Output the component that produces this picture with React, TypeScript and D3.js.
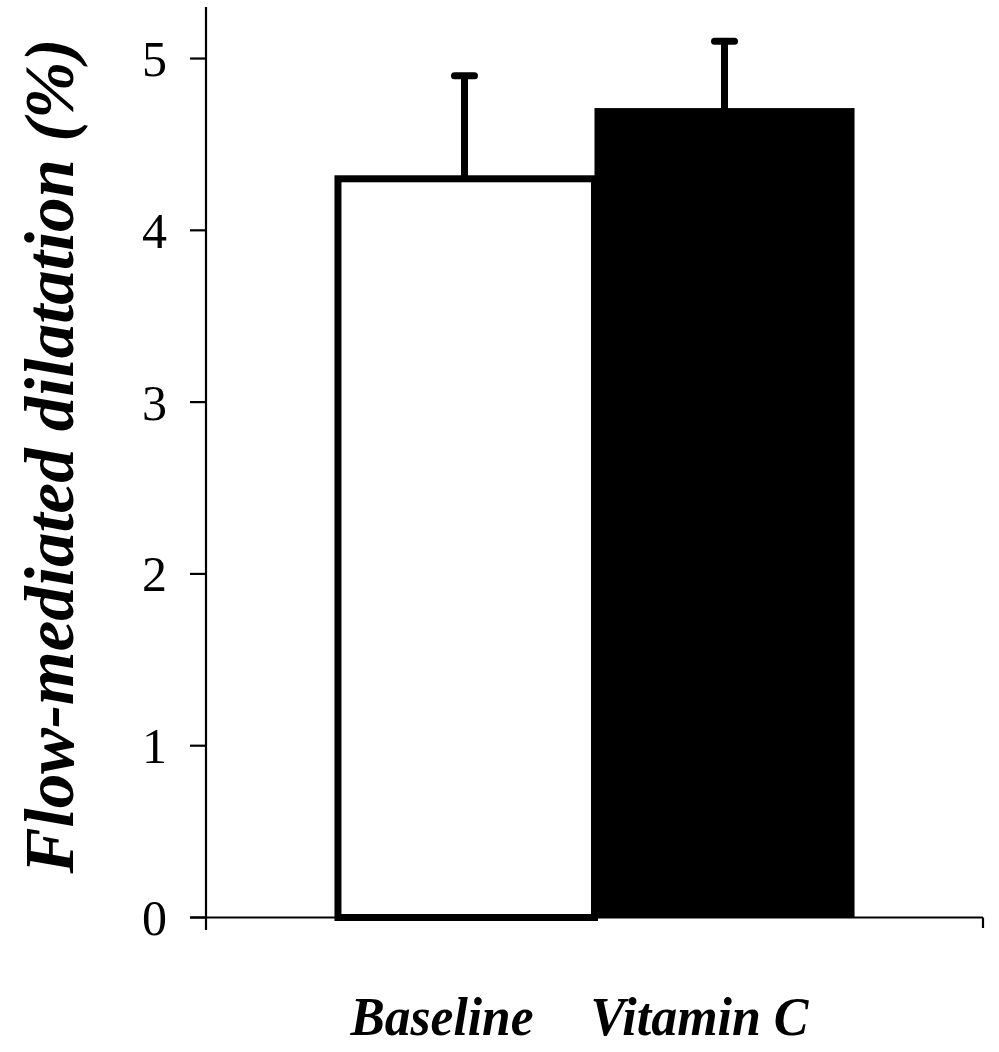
import React from "react";
import * as d3 from "d3";

const categories = ["Baseline", "Vitamin C"];
const means = [4.3, 4.7];
const errors = [0.6, 0.4];
const fills = ["#ffffff", "#000000"];
const yTicks = [0, 1, 2, 3, 4, 5];
const yLabel = "Flow-mediated dilatation (%)";

const W = 999;
const H = 1052;
const FONT = "'Liberation Serif', 'Times New Roman', serif";

export default function App() {
  const x0 = 206;
  const x1 = 983;
  const y = d3.scaleLinear().domain([0, 5.3]).range([917.5, 7]);
  const outer = d3.scaleBand<string>().domain(["g"]).range([x0, x1]).paddingOuter(0.247).paddingInner(0);
  const inner = d3.scaleBand<string>().domain(categories).range([0, outer.bandwidth()]).padding(0);
  const gx = outer("g")!;
  const bw = inner.bandwidth();
  const groupCenter = gx + outer.bandwidth() / 2;

  return (
    <svg width={W} height={H} style={{ display: "block", position: "absolute", left: 0, top: 0, background: "#fff" }}>
      {/* bars */}
      {categories.map((c, i) => {
        const bx = gx + inner(c)!;
        const top = y(means[i]);
        const bottom = y(0);
        if (fills[i] === "#ffffff") {
          return (
            <rect key={c} x={bx + 3.5} y={top} width={bw - 3.5} height={bottom - top}
              fill="#fff" stroke="#000" strokeWidth={7} />
          );
        }
        return <rect key={c} x={bx} y={top - 2} width={bw} height={bottom - top + 2} fill="#000" />;
      })}
      {/* error bars */}
      {categories.map((c, i) => {
        const cx = gx + inner(c)! + bw / 2;
        const yt = y(means[i] + errors[i]);
        return (
          <g key={c + "e"} stroke="#000" strokeWidth={7} strokeLinecap="round">
            <line x1={cx} x2={cx} y1={y(means[i])} y2={yt} strokeLinecap="butt" />
            <line x1={cx - 10} x2={cx + 10} y1={yt} y2={yt} />
          </g>
        );
      })}
      {/* axes */}
      <g stroke="#000" strokeWidth={2.2} fill="none">
        <line x1={x0} x2={x0} y1={7} y2={930} />
        <line x1={190} x2={x1} y1={y(0)} y2={y(0)} />
        <line x1={x1} x2={x1} y1={y(0)} y2={928} />
        {yTicks.map((t) => (
          <line key={t} x1={190} x2={x0} y1={y(t)} y2={y(t)} />
        ))}
      </g>
      {yTicks.map((t) => (
        <text key={"l" + t} x={167} y={y(t)} dy="0.35em" textAnchor="end" fontFamily={FONT} fontSize={50}>
          {t}
        </text>
      ))}
      <text transform={`translate(73, 456) rotate(-90)`} textAnchor="middle" fontFamily={FONT}
        fontSize={70} fontWeight="bold" fontStyle="italic" textLength={835} lengthAdjust="spacingAndGlyphs">
        {yLabel}
      </text>
      <text x={groupCenter - 61} y={1035} textAnchor="end" fontFamily={FONT} fontSize={55}
        fontWeight="bold" fontStyle="italic" textLength={183} lengthAdjust="spacingAndGlyphs">
        {categories[0]}
      </text>
      <text x={groupCenter - 4} y={1035} textAnchor="start" fontFamily={FONT} fontSize={55}
        fontWeight="bold" fontStyle="italic" textLength={218} lengthAdjust="spacingAndGlyphs">
        {categories[1]}
      </text>
    </svg>
  );
}
